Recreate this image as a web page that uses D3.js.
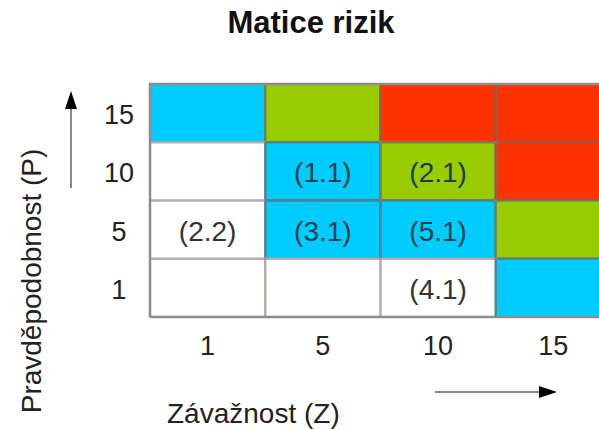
<!DOCTYPE html>
<html>
<head>
<meta charset="utf-8">
<script src="https://cdn.jsdelivr.net/npm/d3@7"></script>
<style>
  body { margin: 0; background: #fff; overflow: hidden; }
  text { font-family: "Liberation Sans", Arial, sans-serif; }
</style>
</head>
<body>
<div id="chart"></div>
<script>
// data
var title = "Matice rizik";
var zLabels = ["1", "5", "10", "15"];          // Závažnost
var pLabels = ["15", "10", "5", "1"];          // Pravděpodobnost, top to bottom
var riskLevels = [                             // 0 = none, 1 = low, 2 = mid, 3 = high
  [1, 2, 3, 3],
  [0, 1, 2, 3],
  [0, 1, 1, 2],
  [0, 0, 0, 1]
];
var cellCodes = [
  ["", "", "", ""],
  ["", "(1.1)", "(2.1)", ""],
  ["(2.2)", "(3.1)", "(5.1)", ""],
  ["", "", "(4.1)", ""]
];
var levelColors = ["#ffffff", "#00ccff", "#99cc00", "#ff3300"];
var levelEdges = ["#e6d6d2", "#0a6f8c", "#5a7000", "#9a2000"];

var width = 599, height = 429;

var svg = d3.select("#chart").append("svg")
  .attr("width", width)
  .attr("height", height);

// scales
var x = d3.scaleBand().domain(zLabels).range([150, 611]);
var y = d3.scaleBand().domain(pLabels).range([84, 317]);

// cells
var cells = [];
pLabels.forEach(function(p, i) {
  zLabels.forEach(function(z, j) {
    cells.push({ p: p, z: z, level: riskLevels[i][j], code: cellCodes[i][j] });
  });
});

svg.append("g").selectAll("rect")
  .data(cells)
  .enter().append("rect")
  .attr("x", function(d) { return x(d.z); })
  .attr("y", function(d) { return y(d.p); })
  .attr("width", x.bandwidth())
  .attr("height", y.bandwidth())
  .attr("fill", function(d) { return levelColors[d.level]; })
  .attr("stroke", function(d) { return levelEdges[d.level]; })
  .attr("stroke-width", 2);

// grid lines
var grid = svg.append("g").attr("stroke", "#8c8c8c").attr("stroke-width", 2.5).attr("fill", "none");
grid.selectAll("line.v")
  .data(zLabels)
  .enter().append("line")
  .attr("x1", function(d) { return x(d); })
  .attr("x2", function(d) { return x(d); })
  .attr("y1", y.range()[0])
  .attr("y2", y.range()[1])
  .attr("stroke-opacity", function(d, i) { return i === 0 ? 1 : 0.55; });
grid.selectAll("line.h")
  .data(pLabels.concat(["bottom"]))
  .enter().append("line")
  .attr("x1", x.range()[0])
  .attr("x2", x.range()[1])
  .attr("y1", function(d) { return d === "bottom" ? y.range()[1] : y(d); })
  .attr("y2", function(d) { return d === "bottom" ? y.range()[1] : y(d); })
  .attr("stroke-opacity", function(d, i) { return (i === 0 || d === "bottom") ? 1 : 0.55; });

// cell codes
svg.append("g").selectAll("text")
  .data(cells.filter(function(d) { return d.code; }))
  .enter().append("text")
  .attr("x", function(d) { return x(d.z) + x.bandwidth() / 2; })
  .attr("y", function(d) { return y(d.p) + y.bandwidth() / 2 + 11; })
  .attr("text-anchor", "middle")
  .attr("font-size", 28)
  .attr("fill", function(d) { return d.level === 0 ? "#333" : "#17404c"; })
  .text(function(d) { return d.code; });

// axis tick labels
svg.append("g").selectAll("text")
  .data(pLabels)
  .enter().append("text")
  .attr("x", 119)
  .attr("y", function(d) { return y(d) + y.bandwidth() / 2 + 11; })
  .attr("text-anchor", "middle")
  .attr("font-size", 27)
  .attr("fill", "#222")
  .text(function(d) { return d; });

svg.append("g").selectAll("text")
  .data(zLabels)
  .enter().append("text")
  .attr("x", function(d) { return x(d) + x.bandwidth() / 2; })
  .attr("y", 355)
  .attr("text-anchor", "middle")
  .attr("font-size", 27)
  .attr("fill", "#222")
  .text(function(d) { return d; });

// title
svg.append("text")
  .attr("x", 311)
  .attr("y", 33)
  .attr("text-anchor", "middle")
  .attr("font-size", 31)
  .attr("font-weight", "bold")
  .attr("fill", "#111")
  .text(title);

// axis titles
svg.append("text")
  .attr("transform", "translate(41,281) rotate(-90)")
  .attr("text-anchor", "middle")
  .attr("font-size", 28)
  .attr("fill", "#222")
  .text("Pravděpodobnost (P)");

svg.append("text")
  .attr("x", 167)
  .attr("y", 423)
  .attr("font-size", 28)
  .attr("fill", "#222")
  .text("Závažnost (Z)");

// arrows
svg.append("line")
  .attr("x1", 71).attr("x2", 71)
  .attr("y1", 188).attr("y2", 105)
  .attr("stroke", "#888").attr("stroke-width", 2);
svg.append("path")
  .attr("d", "M71,91 L65,109 L77,109 Z")
  .attr("fill", "#000");

svg.append("line")
  .attr("x1", 435).attr("x2", 545)
  .attr("y1", 392).attr("y2", 392)
  .attr("stroke", "#888").attr("stroke-width", 2);
svg.append("path")
  .attr("d", "M557,392 L539,386 L539,398 Z")
  .attr("fill", "#000");
</script>
</body>
</html>
